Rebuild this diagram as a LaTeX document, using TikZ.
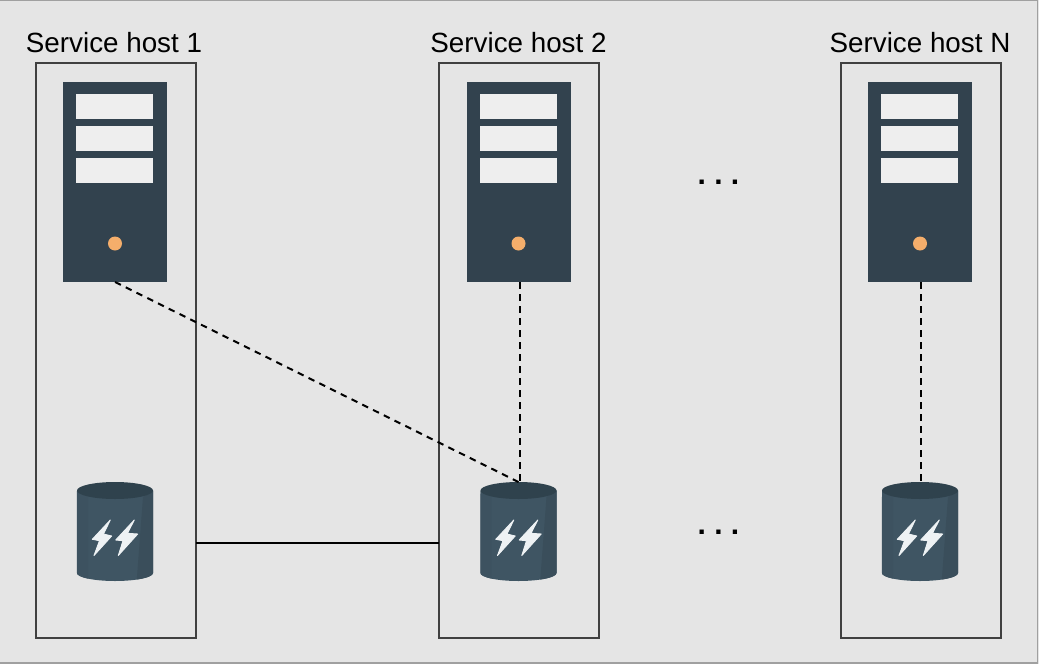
\documentclass[tikz,border=0pt]{standalone}
\usepackage{fontspec}
\setmainfont{Liberation Sans}
\definecolor{bgc}{HTML}{E5E5E5}
\definecolor{framec}{HTML}{A0A0A0}
\definecolor{hostc}{HTML}{404040}
\definecolor{srvc}{HTML}{32424E}
\definecolor{slotc}{HTML}{EEEEEE}
\definecolor{ledc}{HTML}{F5AE6B}
\definecolor{dbbody}{HTML}{3F5563}
\definecolor{dbside}{HTML}{3A4E5B}
\definecolor{dbleft}{HTML}{3D5260}
\definecolor{dbtop}{HTML}{2F424D}
\definecolor{boltc}{HTML}{EEF2F4}
\tikzset{
  x=1pt,y=-1pt,
  host/.style={draw=hostc,line width=2pt,minimum width=160pt,minimum height=575pt,inner sep=0pt,outer sep=0pt},
  hosttitle/.style={font=\fontsize{27.8pt}{30pt}\selectfont,inner sep=0pt,anchor=center},
  dotsrow/.style={font=\bfseries\fontsize{30pt}{30pt}\selectfont,inner sep=0pt,anchor=center},
  srvbox/.style={fill=srvc,minimum width=104pt,minimum height=200pt,inner sep=0pt,outer sep=0pt},
  slot/.style={fill=slotc,minimum width=77pt,minimum height=25pt,inner sep=0pt,outer sep=0pt},
  led/.style={circle,fill=ledc,minimum size=14pt,inner sep=0pt,outer sep=0pt},
  dbbox/.style={minimum width=76pt,minimum height=99pt,inner sep=0pt,outer sep=0pt},
  bolt/.style={fill=boltc,draw=boltc,line width=0.9pt,line join=round},
  link/.style={draw=black,line width=2pt},
  dashlink/.style={draw=black,line width=2pt,dash pattern=on 6.5pt off 5.5pt},
}
\newcommand{\serverat}[2]{%
  \node[srvbox] (#1) at (#2,182) {};
  \node[slot] (#1a) at (#2-0.3,106.5) {};
  \node[slot] (#1b) at (#2-0.3,138.5) {};
  \node[slot] (#1c) at (#2-0.3,170) {};
  \node[led] (#1d) at (#2,243.5) {};
}
\newcommand{\dbat}[2]{%
  \node[dbbox] (#1) at (#2,531.5) {};
  \begin{scope}[shift={(#2,0)}]
    \fill[dbbody] (-38,490.5) -- (38,490.5) -- (38,573) arc[start angle=0,end angle=-180,x radius=38pt,y radius=8pt] -- cycle;
    \fill[dbside] (28,497) -- (38,490.5) -- (38,573) arc[start angle=0,end angle=-55,x radius=38pt,y radius=8pt] -- cycle;
    \fill[dbleft] (-38,490.5) -- (-27,497) -- (-27,578.6) arc[start angle=-135,end angle=-180,x radius=38pt,y radius=8pt] -- cycle;
    \fill[dbtop] (0,490.5) ellipse[x radius=38pt,y radius=8.5pt];
    \path[bolt] (-4.7,520) -- (-22.7,539.3) -- (-15.5,540.7) -- (-21,555.5) -- (-3.3,536) -- (-11.5,534) -- cycle;
    \path[bolt] (19.3,520) -- (0.7,540) -- (8,540.7) -- (3.3,555.5) -- (22.7,534) -- (12.5,533.3) -- cycle;
  \end{scope}
}
\begin{document}
\begin{tikzpicture}
\useasboundingbox (0,0) rectangle (1039,664);
\fill[bgc] (0,0) rectangle (1039,664);
\draw[framec,line width=1.5pt] (0,0.5) -- (1037.5,0.5) -- (1037.5,663) -- (0,663);
\node[host] (h1) at (116,350.5) {};
\node[host] (h2) at (519,350.5) {};
\node[host] (h3) at (921,350.5) {};
\node[hosttitle] (t1) at (114,42.5) {Service host 1};
\node[hosttitle] (t2) at (518.5,42.5) {Service host 2};
\node[hosttitle] (t3) at (920,42.5) {Service host N};
\serverat{s1}{115}
\serverat{s2}{518.5}
\serverat{s3}{920}
\dbat{d1}{115}
\dbat{d2}{518.5}
\dbat{d3}{920}
\coordinate (la) at (h1.east |- d1.center);
\coordinate (lb) at (h2.west |- d1.center);
\draw[link] ([yshift=-11.5pt]la) -- ([yshift=-11.5pt]lb);
\draw[dashlink] (s1.south) -- (d2.north);
\draw[dashlink] ([xshift=1pt]s2.south) -- ([xshift=1pt]d2.north);
\draw[dashlink] ([xshift=1pt]s3.south) -- ([xshift=1pt]d3.north);
\node[dotsrow] (m1) at (718.5,182) {.\kern8.3pt.\kern8.3pt.};
\node[dotsrow] (m2) at (718.5,532) {.\kern8.3pt.\kern8.3pt.};
\end{tikzpicture}
\end{document}
